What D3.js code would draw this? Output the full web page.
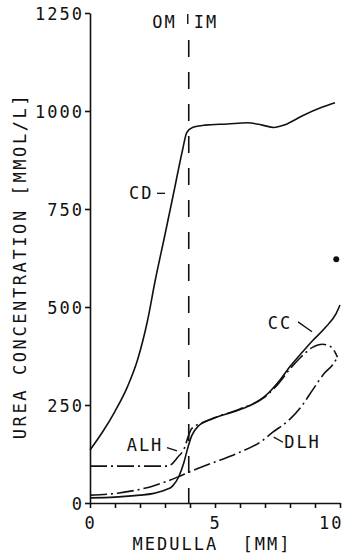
<!DOCTYPE html>
<html lang="en">
<head>
<meta charset="UTF-8">
<title>Urea concentration</title>
<script src="https://cdn.jsdelivr.net/npm/d3@7"></script>
<style>
    body { margin: 0; background: #fff; }
    svg { display: block; }
    text {
        font-family: "DejaVu Sans Mono", monospace;
        font-size: 17px;
        fill: #111;
        letter-spacing: 2px;
    }
    .curve { fill: none; stroke: #111; stroke-width: 1.6; }
    .dashdot { stroke-dasharray: 17, 4, 2, 4; }
    .axis path, .axis line { stroke: #111; stroke-width: 1.6; }
</style>
</head>
<body>
<div id="chart"></div>
<script>
// data: [medulla depth (mm), urea (mmol/l)]
const cd = [[0, 135], [0.5, 181], [1.0, 234], [1.5, 297], [1.9, 365], [2.3, 465], [2.6, 565],
    [3.0, 685], [3.35, 792], [3.7, 900], [3.87, 945], [4.1, 958], [4.6, 964], [5.5, 967],
    [6.3, 970], [6.9, 964], [7.35, 958], [7.8, 965], [8.5, 988], [9.3, 1010], [9.8, 1021]]
const cc = [[0, 13], [1, 15], [2, 20], [2.5, 24], [3.0, 33], [3.3, 43], [3.55, 67], [3.75, 102],
    [3.93, 145], [4.07, 172], [4.35, 197], [4.9, 215], [5.9, 236], [6.5, 252], [6.95, 270],
    [7.6, 314], [8.0, 348], [8.4, 378], [8.9, 414], [9.45, 450], [9.85, 484], [10, 505]]
const alh = [[0, 94], [1, 94], [2, 94], [3.1, 94], [3.5, 116], [3.8, 144], [3.93, 170],
    [4.07, 190], [4.4, 202], [5.0, 218], [6.0, 240], [6.9, 266], [7.5, 302], [8.0, 342],
    [8.4, 370], [8.9, 397], [9.3, 405], [9.65, 398], [9.9, 372]]
const dlh = [[0, 20], [1.1, 25], [2.5, 43], [3.5, 66], [4.0, 80], [4.8, 100], [5.9, 127],
    [6.8, 155], [7.3, 180], [8.0, 214], [8.5, 250], [8.9, 288], [9.4, 333], [9.7, 352], [9.9, 372]]
const point = [[9.85, 622]]
const omImBoundary = 3.95

const yTicks = [0, 250, 500, 750, 1000, 1250]
const xTicks = d3.range(0, 11)
const xTickLabels = [0, 5, 10]

const labels = [
    {text: 'CD', x: 2.05, y: 792, pointer: [[2.68, 790], [3.0, 790]]},
    {text: 'CC', x: 7.6, y: 460, pointer: [[8.32, 462], [8.88, 437]]},
    {text: 'ALH', x: 2.2, y: 148, pointer: [[3.08, 141], [3.48, 133]]},
    {text: 'DLH', x: 8.5, y: 155, pointer: [[7.35, 168], [7.72, 155]]}
]

const width = 342, height = 554

const x = d3.scaleLinear().domain([0, 10]).range([90, 340])
const y = d3.scaleLinear().domain([0, 1250]).range([503, 13])

const svg = d3.select('#chart').append('svg')
    .attr('width', width)
    .attr('height', height)

// axes
svg.append('g').attr('class', 'axis')
    .attr('transform', 'translate(' + x(0) + ',0)')
    .call(d3.axisLeft(y).tickValues(yTicks).tickFormat(d3.format('d'))
        .tickSize(5).tickSizeOuter(0).tickPadding(1))
    .call(g => g.selectAll('text').attr('dy', '0.36em'))

const xAxis = svg.append('g').attr('class', 'axis')
    .attr('transform', 'translate(0,' + y(0) + ')')
    .call(d3.axisBottom(x).tickValues(xTicks).tickSize(5).tickSizeOuter(0).tickPadding(9)
        .tickFormat(d => xTickLabels.includes(d) ? d : ''))
xAxis.selectAll('.tick text').filter(d => d === 10)
    .attr('text-anchor', 'end').attr('dx', '3')
svg.selectAll('.axis text').style('font-family', '"DejaVu Sans Mono", monospace')
    .style('font-size', '17px').style('letter-spacing', '2px')

// OM / IM boundary
svg.append('line')
    .attr('x1', x(omImBoundary)).attr('x2', x(omImBoundary))
    .attr('y1', 40).attr('y2', y(0))
    .attr('stroke', '#111').attr('stroke-width', 1.6)
    .attr('stroke-dasharray', '17,15')
svg.append('line')
    .attr('x1', x(omImBoundary) - 1).attr('x2', x(omImBoundary) - 1)
    .attr('y1', 14).attr('y2', 24)
    .attr('stroke', '#111').attr('stroke-width', 1.4)
svg.append('text').attr('x', x(omImBoundary) - 12).attr('y', 28)
    .attr('text-anchor', 'end').text('OM')
svg.append('text').attr('x', x(omImBoundary) + 5).attr('y', 28)
    .attr('text-anchor', 'start').text('IM')

// curves
const line = d3.line()
    .x(d => x(d[0]))
    .y(d => y(d[1]))
    .curve(d3.curveMonotoneX)

svg.append('path').attr('class', 'curve').attr('d', line(cd))
svg.append('path').attr('class', 'curve').attr('d', line(cc))
svg.append('path').attr('class', 'curve dashdot').attr('d', line(alh))
svg.append('path').attr('class', 'curve dashdot').attr('d', line(dlh))

svg.selectAll('circle').data(point).enter().append('circle')
    .attr('cx', d => x(d[0]))
    .attr('cy', d => y(d[1]))
    .attr('r', 3)
    .attr('fill', '#111')

// curve labels
labels.forEach(l => {
    svg.append('text')
        .attr('x', x(l.x)).attr('y', y(l.y))
        .attr('text-anchor', 'middle')
        .attr('dy', '0.36em')
        .text(l.text)
    svg.append('line')
        .attr('x1', x(l.pointer[0][0])).attr('y1', y(l.pointer[0][1]))
        .attr('x2', x(l.pointer[1][0])).attr('y2', y(l.pointer[1][1]))
        .attr('stroke', '#111').attr('stroke-width', 1.3)
})

// axis titles
svg.append('text')
    .attr('transform', 'translate(20,266) rotate(-90)')
    .attr('text-anchor', 'middle')
    .attr('dy', '0.36em')
    .style('letter-spacing', '2.6px')
    .text('UREA CONCENTRATION [MMOL/L]')
svg.append('text')
    .attr('x', 212).attr('y', 544)
    .attr('text-anchor', 'middle')
    .attr('dy', '0.36em')
    .style('white-space', 'pre')
    .text('MEDULLA  [MM]')
</script>
</body>
</html>
